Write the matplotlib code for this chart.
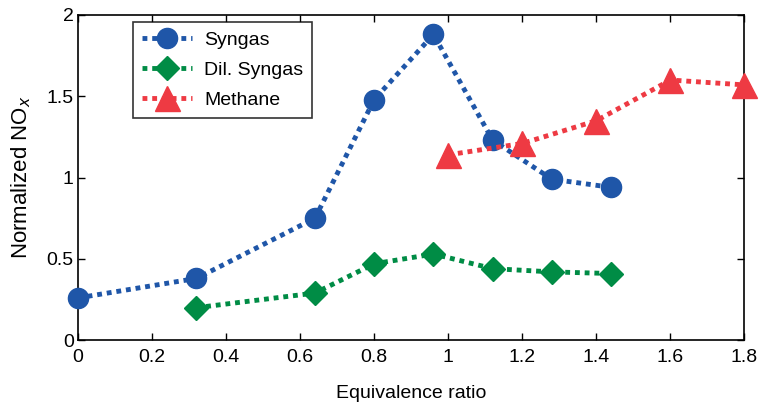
import matplotlib.pyplot as plt

plt.rcParams['font.family'] = ['Liberation Sans', 'DejaVu Sans']

syngas_x = [0, 0.32, 0.64, 0.8, 0.96, 1.12, 1.28, 1.44]
syngas_y = [0.26, 0.38, 0.75, 1.48, 1.88, 1.23, 0.99, 0.94]

dil_x = [0.32, 0.64, 0.8, 0.96, 1.12, 1.28, 1.44]
dil_y = [0.20, 0.29, 0.47, 0.53, 0.44, 0.42, 0.41]

methane_x = [1.0, 1.2, 1.4, 1.6, 1.8]
methane_y = [1.14, 1.21, 1.35, 1.60, 1.57]

fig = plt.figure(figsize=(7.6, 4.05), dpi=100)
ax = fig.add_axes([0.1026, 0.16, 0.877, 0.803])

ls = (0, (1, 1))
ax.plot(syngas_x, syngas_y, linestyle=ls, lw=3.5, color='#1f56a8', marker='o',
        ms=14.5, label='Syngas', clip_on=False, zorder=3)
ax.plot(dil_x, dil_y, linestyle=ls, lw=3.5, color='#008c45', marker='D',
        ms=12.5, label='Dil. Syngas', clip_on=False, zorder=3)
ax.plot(methane_x, methane_y, linestyle=ls, lw=3.5, color='#ee3a43', marker='^',
        ms=18, label='Methane', clip_on=False, zorder=3)

ax.set_xlim(0, 1.8)
ax.set_ylim(0, 2)
ax.set_xticks([0, 0.2, 0.4, 0.6, 0.8, 1, 1.2, 1.4, 1.6, 1.8])
ax.set_xticklabels(['0', '0.2', '0.4', '0.6', '0.8', '1', '1.2', '1.4', '1.6', '1.8'])
ax.set_yticks([0, 0.5, 1, 1.5, 2])
ax.set_yticklabels(['0', '0.5', '1', '1.5', '2'])
ax.tick_params(direction='in', top=True, right=True, labelsize=14, length=5, width=1)
ax.tick_params(axis='x', pad=6)
ax.tick_params(axis='y', pad=3)
for s in ax.spines.values():
    s.set_linewidth(1.2)

ax.set_xlabel('Equivalence ratio', fontsize=14, labelpad=14)
ax.set_ylabel('Normalized NO$_x$', fontsize=16, labelpad=10)

leg = ax.legend(loc='upper left', bbox_to_anchor=(0.0825, 0.978), fontsize=14,
                frameon=True, fancybox=False, edgecolor='black',
                handlelength=2.6, borderpad=0.45, labelspacing=0.65, handletextpad=0.6,
                borderaxespad=0)
leg.get_frame().set_linewidth(1.2)

fig.savefig('out.png', dpi=100)
